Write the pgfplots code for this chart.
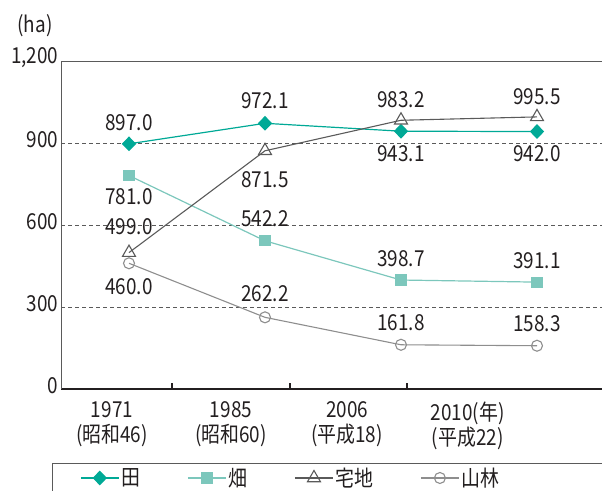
\documentclass[border=0pt]{standalone}
\usepackage{fontspec}
\setmainfont[FakeStretch=0.86]{Noto Sans CJK JP}
\usepackage{pgfplots}
\usepackage{pgfplotstable}
\pgfplotsset{compat=1.18}
\definecolor{cta}{HTML}{00A996}
\definecolor{chata}{HTML}{7CC7BC}
\definecolor{ctaku}{HTML}{5A5A5A}
\definecolor{cyama}{HTML}{8E8E8E}
\definecolor{ctext}{HTML}{231F20}

\pgfplotstableread{
x y d
0 897.0 21
1 972.1 23
2 943.1 -22
3 942.0 -22
}\tTa
\pgfplotstableread{
x y d
0 781.0 -21
1 542.2 22
2 398.7 21.5
3 391.1 21.5
}\tHata
\pgfplotstableread{
x y d
0 499.0 26
1 871.5 -29
2 983.2 21
3 995.5 20
}\tTaku
\pgfplotstableread{
x y d
0 460.0 -23
1 262.2 24
2 161.8 22
3 158.3 22
}\tYama

\begin{document}
\begin{tikzpicture}[x=1pt,y=1pt]
\useasboundingbox (0,0) rectangle (602,-490);
\clip (0,0) rectangle (602,-490);
\begin{axis}[
  at={(61pt,-389pt)}, anchor=south west,
  scale only axis, width=541pt, height=328pt,
  xmin=-0.5, xmax=3.478, ymin=0, ymax=1200,
  clip=false,
  axis lines*=left,
  axis line style={-},
  x axis line style={ctext, line width=1.8pt},
  y axis line style={ctaku, line width=1pt},
  /pgf/number format/assume math mode=true,
  /pgf/number format/1000 sep={,},
  font=\fontsize{22}{23}\selectfont,
  ytick={0,300,600,900},
  extra y ticks={1200},
  ymajorgrids,
  major grid style={ctaku, line width=0.9pt, dash pattern=on 4pt off 3pt},
  extra y tick style={ymajorgrids, major grid style={solid, ctaku, line width=1pt}},
  ytick style={draw=none},
  yticklabel style={text=ctext, yshift=3pt, xshift=1pt},
  xtick={0.316,1.184,2.044},
  xticklabels={,,},
  xtick style={ctext, line width=1.5pt},
  tick align=inside,
  major tick length=6pt,
  extra x ticks={-0.125,0.75,1.603,2.49},
  extra x tick labels={{1971\\(昭和46)},{1985\\(昭和60)},{2006\\(平成18)},{2010(年)\\(平成22)}},
  extra x tick style={major tick length=0pt},
  xticklabel style={align=center, text=ctext, yshift=-9pt, font=\fontsize{22}{25}\selectfont},
  legend image code/.code={\draw[mark repeat=2,mark phase=2,#1] plot coordinates {(0pt,0pt) (19pt,0pt) (38pt,0pt)};},
  legend style={at={(0.0351,-0.2713)}, anchor=west, draw=none, fill=none,
    inner sep=0pt, font=\fontsize{22}{23}\selectfont, text=ctext,
    /tikz/every even column/.append style={column sep=45pt}},
  legend columns=4,
  every node near coord/.append style={anchor=center, text=ctext, yshift=\dd*1pt, font=\fontsize{22}{23}\selectfont},
  nodes near coords={\pgfmathprintnumber[fixed,fixed zerofill,precision=1]{\pgfplotspointmeta}},
  point meta=y,
  visualization depends on={\thisrow{d}\as\dd},
]
\addplot[cta, line width=1.2pt, mark=diamond*, mark size=6.5pt, mark options={solid, xscale=1.3, fill=cta}] table[x=x,y=y]{\tTa};
\addlegendentry{田}
\addplot[chata, line width=1.2pt, mark=square*, mark size=5pt, mark options={solid, fill=chata}] table[x=x,y=y]{\tHata};
\addlegendentry{畑}
\addplot[ctaku, line width=1.1pt, mark=triangle, mark size=7.5pt, mark options={solid, fill=white, line width=1.1pt}] table[x=x,y=y]{\tTaku};
\addlegendentry{宅地}
\addplot[cyama, line width=1.1pt, mark=o, mark size=5.5pt, mark options={solid, fill=white, line width=1.1pt}] table[x=x,y=y]{\tYama};
\addlegendentry{山林}
\end{axis}
\draw[ctaku, line width=1pt] (52,-463) rectangle (660,-530);
\node[font=\fontsize{22}{23}\selectfont, text=ctext] at (35,-26) {(ha)};
\end{tikzpicture}
\end{document}
